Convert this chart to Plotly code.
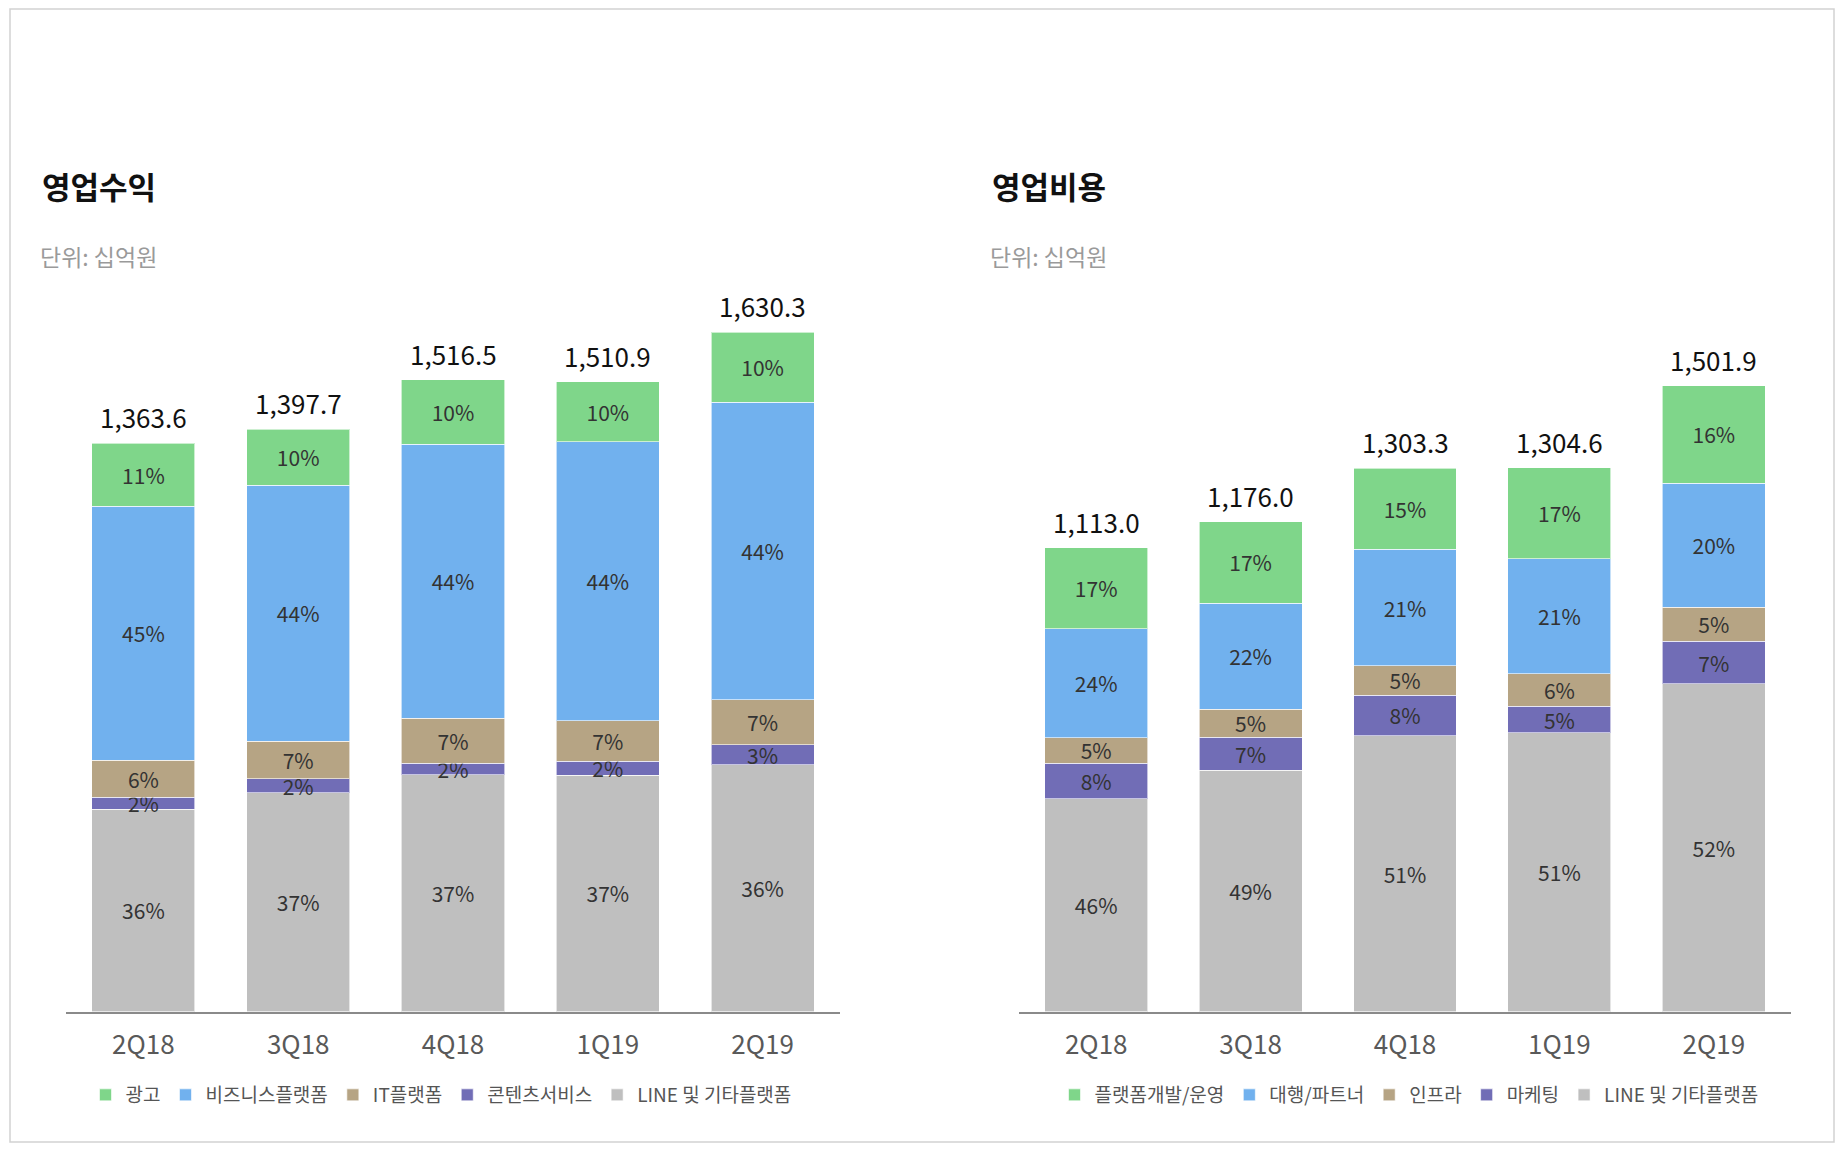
import plotly.graph_objects as go

# quarters on the x axis
quarters = ['2Q18', '3Q18', '4Q18', '1Q19', '2Q19']

# 영업수익 (십억원)
rev_total = [1363.6, 1397.7, 1516.5, 1510.9, 1630.3]
rev_line_etc = [485.8, 524.7, 567.7, 567.3, 592.4]
rev_content = [28.2, 33.9, 28.3, 32.8, 47.5]
rev_it = [89.2, 90.5, 107.4, 98.3, 108.5]
rev_business = [610.0, 614.0, 658.2, 669.0, 713.4]
rev_ad = [150.4, 134.6, 154.9, 143.5, 168.5]

rev_line_pct = [36, 37, 37, 37, 36]
rev_content_pct = [2, 2, 2, 2, 3]
rev_it_pct = [6, 7, 7, 7, 7]
rev_business_pct = [45, 44, 44, 44, 44]
rev_ad_pct = [11, 10, 10, 10, 10]

# 영업비용 (십억원)
exp_total = [1113.0, 1176.0, 1303.3, 1304.6, 1501.9]
exp_line_etc = [510.7, 579.6, 662.2, 668.6, 786.3]
exp_marketing = [85.3, 79.0, 97.0, 64.3, 102.2]
exp_infra = [61.1, 66.4, 70.6, 78.0, 81.2]
exp_partner = [261.1, 255.0, 279.4, 276.3, 298.3]
exp_platform = [194.8, 196.0, 194.1, 217.4, 233.9]

exp_line_pct = [46, 49, 51, 51, 52]
exp_marketing_pct = [8, 7, 8, 5, 7]
exp_infra_pct = [5, 5, 5, 6, 5]
exp_partner_pct = [24, 22, 21, 21, 20]
exp_platform_pct = [17, 17, 15, 17, 16]

GREEN = '#7FD68A'
BLUE = '#71B1EE'
TAN = '#B6A484'
PURPLE = '#716DB6'
GRAY = '#BFBFBF'

FONT = 'Noto Sans CJK KR, Noto Sans, sans-serif'
# the page body has an 8px margin, so the figure is a bit smaller than the window
OFF = 8
W, H = 1844 - 2 * OFF, 1152 - 2 * OFF


def px(x):
    # window x pixel -> paper fraction
    return (x - OFF) / W


def py(y):
    # window y pixel (from top) -> paper fraction
    return (H - (y - OFF)) / H


def add_bar(fig, name, values, pct, color, xaxis, yaxis, legend):
    fig.add_trace(go.Bar(
        x=quarters,
        y=values,
        name=name,
        text=[f'{p}%' for p in pct],
        textposition='inside',
        insidetextanchor='middle',
        textangle=0,
        textfont=dict(size=21, color='#333333', family=FONT),
        marker=dict(color=color, line=dict(color='rgba(255,255,255,0.6)', width=1)),
        xaxis=xaxis,
        yaxis=yaxis,
        legend=legend,
        hoverinfo='skip',
    ))


fig = go.Figure()

# left: 영업수익, stacked from the bottom
add_bar(fig, 'LINE 및 기타플랫폼', rev_line_etc, rev_line_pct, GRAY, 'x', 'y', 'legend')
add_bar(fig, '콘텐츠서비스', rev_content, rev_content_pct, PURPLE, 'x', 'y', 'legend')
add_bar(fig, 'IT플랫폼', rev_it, rev_it_pct, TAN, 'x', 'y', 'legend')
add_bar(fig, '비즈니스플랫폼', rev_business, rev_business_pct, BLUE, 'x', 'y', 'legend')
add_bar(fig, '광고', rev_ad, rev_ad_pct, GREEN, 'x', 'y', 'legend')

# right: 영업비용
add_bar(fig, 'LINE 및 기타플랫폼', exp_line_etc, exp_line_pct, GRAY, 'x2', 'y2', 'legend2')
add_bar(fig, '마케팅', exp_marketing, exp_marketing_pct, PURPLE, 'x2', 'y2', 'legend2')
add_bar(fig, '인프라', exp_infra, exp_infra_pct, TAN, 'x2', 'y2', 'legend2')
add_bar(fig, '대행/파트너', exp_partner, exp_partner_pct, BLUE, 'x2', 'y2', 'legend2')
add_bar(fig, '플랫폼개발/운영', exp_platform, exp_platform_pct, GREEN, 'x2', 'y2', 'legend2')

annotations = []
# totals above each bar
for xref, yref, totals in [('x', 'y', rev_total), ('x2', 'y2', exp_total)]:
    for q, t in zip(quarters, totals):
        annotations.append(dict(
            x=q, y=t, xref=xref, yref=yref, text=f'{t:,.1f}',
            showarrow=False, yanchor='bottom', yshift=6,
            font=dict(size=26, color='#111111', family=FONT),
        ))

# titles and unit notes
for x_px, title in [(40, '영업수익'), (990, '영업비용')]:
    annotations.append(dict(
        x=px(x_px), y=py(185), xref='paper', yref='paper',
        text=f'<b>{title}</b>', showarrow=False, xanchor='left', yanchor='middle',
        font=dict(size=31, color='#111111', family=FONT),
    ))
    annotations.append(dict(
        x=px(x_px - 2), y=py(256), xref='paper', yref='paper',
        text='단위: 십억원', showarrow=False, xanchor='left', yanchor='middle',
        font=dict(size=23, color='#9a9a9a', family=FONT),
    ))

xaxis_style = dict(
    range=[-0.5, 4.5],
    showline=True, linecolor='#8a8a8a', linewidth=2,
    showgrid=False, zeroline=False, ticks='',
    tickfont=dict(size=26, color='#595959', family=FONT),
    ticklabelstandoff=9,
    fixedrange=True,
)
yaxis_style = dict(range=[0, 1800], visible=False, fixedrange=True)

legend_style = dict(
    orientation='h', xanchor='center', yanchor='middle', y=py(1095),
    traceorder='reversed', bgcolor='rgba(0,0,0,0)',
    font=dict(size=19, color='#555555', family=FONT),
)

fig.update_layout(
    width=W, height=H,
    margin=dict(l=0, r=0, t=0, b=0),
    paper_bgcolor='white', plot_bgcolor='white',
    font=dict(family=FONT),
    barmode='stack', bargap=0.334,
    xaxis=dict(domain=[px(66), px(840)], anchor='y', **xaxis_style),
    yaxis=dict(domain=[py(1011.5), py(261.5)], anchor='x', **yaxis_style),
    xaxis2=dict(domain=[px(1019), px(1791)], anchor='y2', **xaxis_style),
    yaxis2=dict(domain=[py(1011.5), py(261.5)], anchor='x2', **yaxis_style),
    legend=dict(x=px(441), **legend_style),
    legend2=dict(x=px(1409), **legend_style),
    uniformtext=dict(minsize=21, mode='show'),
    annotations=annotations,
    shapes=[dict(
        type='rect', xref='paper', yref='paper',
        x0=px(10), x1=px(1834), y0=py(1142), y1=py(9),
        line=dict(color='#d2d2d2', width=1.5),
    )],
)

fig.write_html('out.html')
